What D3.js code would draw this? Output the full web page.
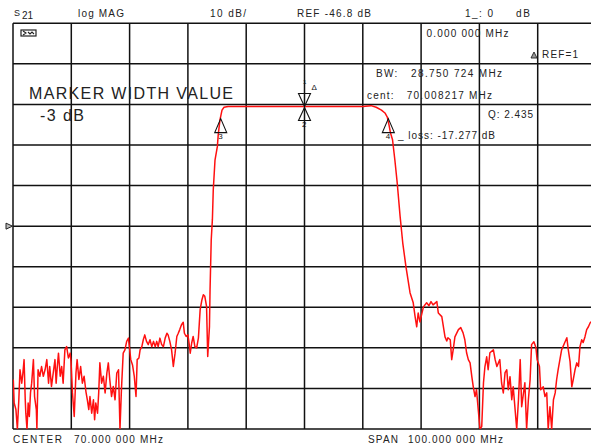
<!DOCTYPE html>
<html>
<head>
<meta charset="utf-8">
<script src="https://cdn.jsdelivr.net/npm/d3@7"></script>
<style>
  html, body { margin: 0; padding: 0; background: #fff; }
  svg { display: block; font-family: "Liberation Sans", Arial, sans-serif; }
</style>
</head>
<body>
<div id="chart"></div>
<script>
// analyzer settings
const centerMHz = 70;
const spanMHz = 100;
const refDb = -46.8;
const dbPerDiv = 10;

// trace: frequency (MHz) and S21 (dB)
const freqMHz = [
  20.05, 20.2, 20.5, 20.75, 21.0, 21.2, 21.5, 21.7, 21.9, 22.1, 22.2, 22.4, 22.6, 22.8, 23.0, 23.2,
  23.5, 23.7, 24.0, 24.1, 24.3, 24.6, 24.9, 25.2, 25.5, 25.8, 26.1, 26.3, 26.6, 26.9, 27.2, 27.4,
  27.6, 27.8, 28.1, 28.35, 28.6, 28.9, 29.2, 29.5, 29.8, 29.95, 30.2, 30.5, 30.8, 31.0, 31.3, 31.6,
  31.9, 32.2, 32.5, 32.75, 33.0, 33.2, 33.5, 33.8, 34.0, 34.2, 34.5, 34.7, 34.9, 35.2, 35.5, 35.8,
  36.1, 36.35, 36.6, 36.9, 37.2, 37.5, 37.8, 38.1, 38.35, 38.6, 38.9, 39.2, 39.5, 39.8, 40.2, 40.5,
  40.8, 41.1, 41.3, 41.6, 41.8, 42.1, 42.35, 42.6, 42.9, 43.2, 43.5, 43.8, 44.1, 44.4, 44.65, 44.9,
  45.2, 45.5, 45.8, 46.1, 46.4, 46.6, 46.9, 47.2, 47.5, 47.8, 48.1, 48.35, 48.6, 48.9, 49.2, 49.4,
  49.7, 50.0, 50.2, 50.4, 50.65, 50.9, 51.2, 51.5, 51.8, 52.1, 52.4, 52.65, 52.9, 53.2, 53.4, 53.7,
  53.8, 54.0, 54.2, 54.35, 54.65, 55.05, 55.2, 55.5, 55.85, 56.2, 56.9, 80.0, 81.4, 82.3, 83.2, 83.8,
  84.2, 84.5, 84.75, 85.1, 85.5, 85.9, 86.4, 86.85, 87.4, 88.1, 88.65, 88.95, 89.25, 89.5, 89.8, 90.4,
  90.95, 91.35, 91.7, 92.05, 92.7, 92.95, 93.55, 94.1, 94.4, 94.6, 95.0, 95.25, 95.5, 95.8, 96.4, 96.8,
  97.2, 97.5, 97.8, 98.1, 98.4, 98.7, 98.95, 99.25, 99.5, 99.8, 100.1, 100.4, 100.7, 100.95, 101.25, 101.5,
  101.8, 102.4, 102.7, 103.0, 103.5, 103.8, 104.1, 104.4, 104.7, 104.95, 105.25, 105.55, 105.8, 106.4, 106.7, 107.0,
  107.25, 107.8, 108.1, 108.4, 108.7, 108.95, 109.35, 109.7, 109.9, 110.3, 110.5, 110.95, 111.25, 111.55, 111.8, 112.1,
  112.4, 112.7, 113.0, 113.25, 113.5, 114.1, 114.7, 115.0, 115.25, 115.55, 115.85, 116.1, 116.4, 116.7, 117.0, 117.25,
  117.55, 117.8, 118.1, 118.4, 118.7, 119.0, 120.0
];
const s21Db = [
  -84.6, -90.4, -92.0, -96.8, -89.6, -82.2, -85.5, -83.0, -79.7, -89.6, -92.9, -96.8, -90.4, -93.7, -87.9, -85.5,
  -79.7, -88.8, -92.0, -96.8, -82.2, -83.8, -81.4, -83.8, -82.2, -79.7, -85.5, -81.4, -86.3, -83.0, -79.7, -85.5,
  -81.4, -78.1, -83.8, -81.4, -85.5, -77.3, -76.5, -79.3, -78.1, -80.1, -87.9, -93.7, -83.0, -79.7, -84.6, -81.4,
  -85.5, -83.8, -87.5, -89.6, -92.0, -88.8, -92.9, -89.6, -94.5, -90.4, -92.9, -87.9, -80.5, -85.5, -83.8, -87.9,
  -83.0, -80.5, -84.6, -88.8, -86.3, -89.6, -83.0, -82.2, -96.8, -87.1, -78.1, -77.3, -75.2, -74.4, -79.7, -81.0,
  -83.8, -88.8, -79.7, -79.3, -77.3, -76.5, -74.8, -73.6, -75.2, -76.0, -74.8, -76.5, -75.2, -76.5, -75.2, -76.5,
  -74.4, -76.0, -76.5, -74.4, -73.2, -73.6, -75.2, -77.3, -81.4, -78.1, -74.0, -73.2, -72.3, -71.1, -70.5, -73.2,
  -74.0, -73.6, -75.6, -78.1, -75.6, -74.0, -76.5, -76.8, -74.4, -67.4, -65.0, -63.7, -64.1, -66.6, -78.9, -71.5,
  -62.5, -50.2, -45.2, -37.9, -30.5, -27.2, -24.3, -20.6, -18.2, -17.5, -17.3, -17.3, -17.1, -17.5, -18.2, -18.9,
  -19.9, -21.9, -23.8, -25.5, -30.5, -36.1, -44.4, -50.9, -56.8, -63.2, -65.7, -68.9, -71.6, -68.2, -70.4, -66.7,
  -65.7, -66.4, -65.4, -66.2, -65.4, -68.2, -69.1, -74.1, -75.1, -74.3, -74.8, -79.7, -77.3, -74.1, -72.3, -71.8,
  -73.1, -74.8, -78.0, -79.7, -80.5, -83.9, -86.4, -88.8, -87.1, -92.0, -96.8, -96.2, -85.4, -81.4, -79.0, -82.2,
  -78.0, -77.3, -79.7, -81.4, -79.7, -85.4, -87.9, -82.9, -82.2, -87.1, -83.9, -89.6, -86.4, -96.8, -89.6, -79.7,
  -91.3, -85.4, -96.8, -89.6, -84.6, -76.0, -75.3, -76.8, -79.7, -81.4, -87.1, -86.4, -88.8, -87.9, -96.8, -91.3,
  -96.8, -89.6, -87.9, -84.6, -82.2, -77.3, -75.3, -74.3, -77.3, -80.2, -86.4, -84.6, -82.2, -80.5, -81.4, -76.5,
  -74.8, -75.5, -74.1, -72.3, -71.6, -70.6, -69.4
];

// markers: 1 = reference (above trace), 2 = centre, 3/4 = -3 dB edges
const markerIds = [1, 2, 3, 4];
const markerFreq = [70.0, 70.0, 55.63, 84.38];
const markerDb = [-17.3, -17.3, -20.3, -20.3];

const W = 591, H = 448;
const plot = { left: 13, top: 23.3, right: 596, bottom: 429 };

const svg = d3.select("#chart").append("svg")
  .attr("width", W)
  .attr("height", H);

const x = d3.scaleLinear()
  .domain([centerMHz - spanMHz / 2, centerMHz + spanMHz / 2])
  .range([plot.left, plot.right]);
const y = d3.scaleLinear()
  .domain([refDb - 5 * dbPerDiv, refDb + 5 * dbPerDiv])
  .range([plot.bottom, plot.top]);

// graticule, 10 x 10 divisions
const xTicks = d3.range(0, 11).map(i => x.domain()[0] + i * spanMHz / 10);
const yTicks = d3.range(0, 11).map(i => y.domain()[0] + i * dbPerDiv);

const grid = svg.append("g");
grid.selectAll("line.v")
  .data(xTicks)
  .enter()
  .append("line")
  .attr("x1", d => x(d)).attr("x2", d => x(d))
  .attr("y1", plot.top).attr("y2", plot.bottom)
  .style("stroke", "#111")
  .style("stroke-width", 1.5);
grid.selectAll("line.h")
  .data(yTicks)
  .enter()
  .append("line")
  .attr("x1", plot.left).attr("x2", plot.right)
  .attr("y1", d => y(d)).attr("y2", d => y(d))
  .style("stroke", "#111")
  .style("stroke-width", 1.5);

// reference level pointer on the left edge
svg.append("path")
  .attr("d", `M6,${y(refDb) - 3} L12.5,${y(refDb)} L6,${y(refDb) + 3} Z`)
  .style("fill", "#bbb")
  .style("stroke", "#222")
  .style("stroke-width", 1);

// little status icon top left
svg.append("rect")
  .attr("x", 21).attr("y", 30).attr("width", 15).attr("height", 6)
  .style("fill", "#fff").style("stroke", "#222").style("stroke-width", 1.2);
svg.append("path")
  .attr("d", "M23,31 L26,33 L23,35 M28,32 L30,34 L32,32 L34,34")
  .style("fill", "none").style("stroke", "#222").style("stroke-width", 1.1);

// trace
svg.append("defs").append("clipPath").attr("id", "clip")
  .append("rect")
  .attr("x", plot.left).attr("y", plot.top)
  .attr("width", plot.right - plot.left).attr("height", plot.bottom - plot.top);

const traceData = freqMHz.map((f, i) => ({ f: f, db: s21Db[i] }));
const valueLine = d3.line()
  .x(d => x(d.f))
  .y(d => y(d.db));

svg.append("path")
  .attr("d", valueLine(traceData))
  .attr("clip-path", "url(#clip)")
  .style("fill", "none")
  .style("stroke", "#ff1010")
  .style("stroke-width", 1.5)
  .style("stroke-linejoin", "round");

// markers
const mk = svg.append("g")
  .style("fill", "none")
  .style("stroke", "#111")
  .style("stroke-width", 1.1);
markerIds.forEach((id, i) => {
  const mx = x(markerFreq[i]);
  const my = y(markerDb[i]);
  if (id == 1) {
    // downward triangle sitting on top of the trace
    mk.append("path").attr("d", `M${mx - 6},${my - 13} L${mx + 6},${my - 13} L${mx},${my} Z`);
    mk.append("text").attr("x", mx + 7).attr("y", my - 16)
      .style("stroke", "none").style("fill", "#111").style("font-size", "8px").text("\u0394");
    mk.append("text").attr("x", mx - 1.5).attr("y", my - 22)
      .style("stroke", "none").style("fill", "#111").style("font-size", "6px").text("1");
  } else {
    mk.append("path").attr("d", `M${mx},${my + (id == 2 ? 1 : 0)} L${mx + 6},${my + 14} L${mx - 6},${my + 14} Z`);
    mk.append("text").attr("x", mx - 2.5).attr("y", my + (id == 2 ? 21 : 20))
      .style("stroke", "none").style("fill", "#111").style("font-size", "8px").text(id);
  }
});

// annotation text: [text, x, y, size, width]
const labels = [
  ["log MAG", 78, 16.5, 10, 46],
  ["10 dB/", 210, 16.5, 10, 36],
  ["REF -46.8 dB", 297, 16.5, 10, 74],
  ["1_: 0", 465, 16.5, 10, 28],
  ["dB", 516, 16.5, 10, 14],
  ["0.000 000 MHz", 426.5, 37, 10, 82],
  ["REF=1", 542, 58, 10, 36],
  ["BW:   28.750 724 MHz", 376, 77, 10, 126],
  ["cent:   70.008217 MHz", 367, 99, 10, 125],
  ["Q: 2.435", 488, 118, 10, 45],
  ["_ loss: -17.277 dB", 398, 139, 10, 97],
  ["MARKER WIDTH VALUE", 29, 99, 16, 204],
  ["-3 dB", 40, 121, 16, 44],
  ["CENTER", 13, 443, 10, 49],
  ["70.000 000 MHz", 74, 443, 10, 89],
  ["SPAN", 368, 443, 10, 30],
  ["100.000 000 MHz", 408, 443, 10, 95]
];
svg.selectAll("text.lab")
  .data(labels)
  .enter()
  .append("text")
  .attr("x", d => d[1])
  .attr("y", d => d[2])
  .attr("textLength", d => d[4])
  .attr("lengthAdjust", "spacing")
  .style("white-space", "pre")
  .style("font-size", d => d[3] + "px")
  .style("fill", "#222")
  .text(d => d[0]);

// S21 with subscript
svg.append("text").attr("x", 14).attr("y", 15.5).style("font-size", "9px").style("fill", "#222").text("S");
svg.append("text").attr("x", 22).attr("y", 19).style("font-size", "10px").style("fill", "#222").text("21");

// small delta before REF=1
svg.append("path")
  .attr("d", "M531,58 L534,52 L537,58 Z")
  .style("fill", "#999").style("stroke", "#222").style("stroke-width", 0.9);
</script>
</body>
</html>
